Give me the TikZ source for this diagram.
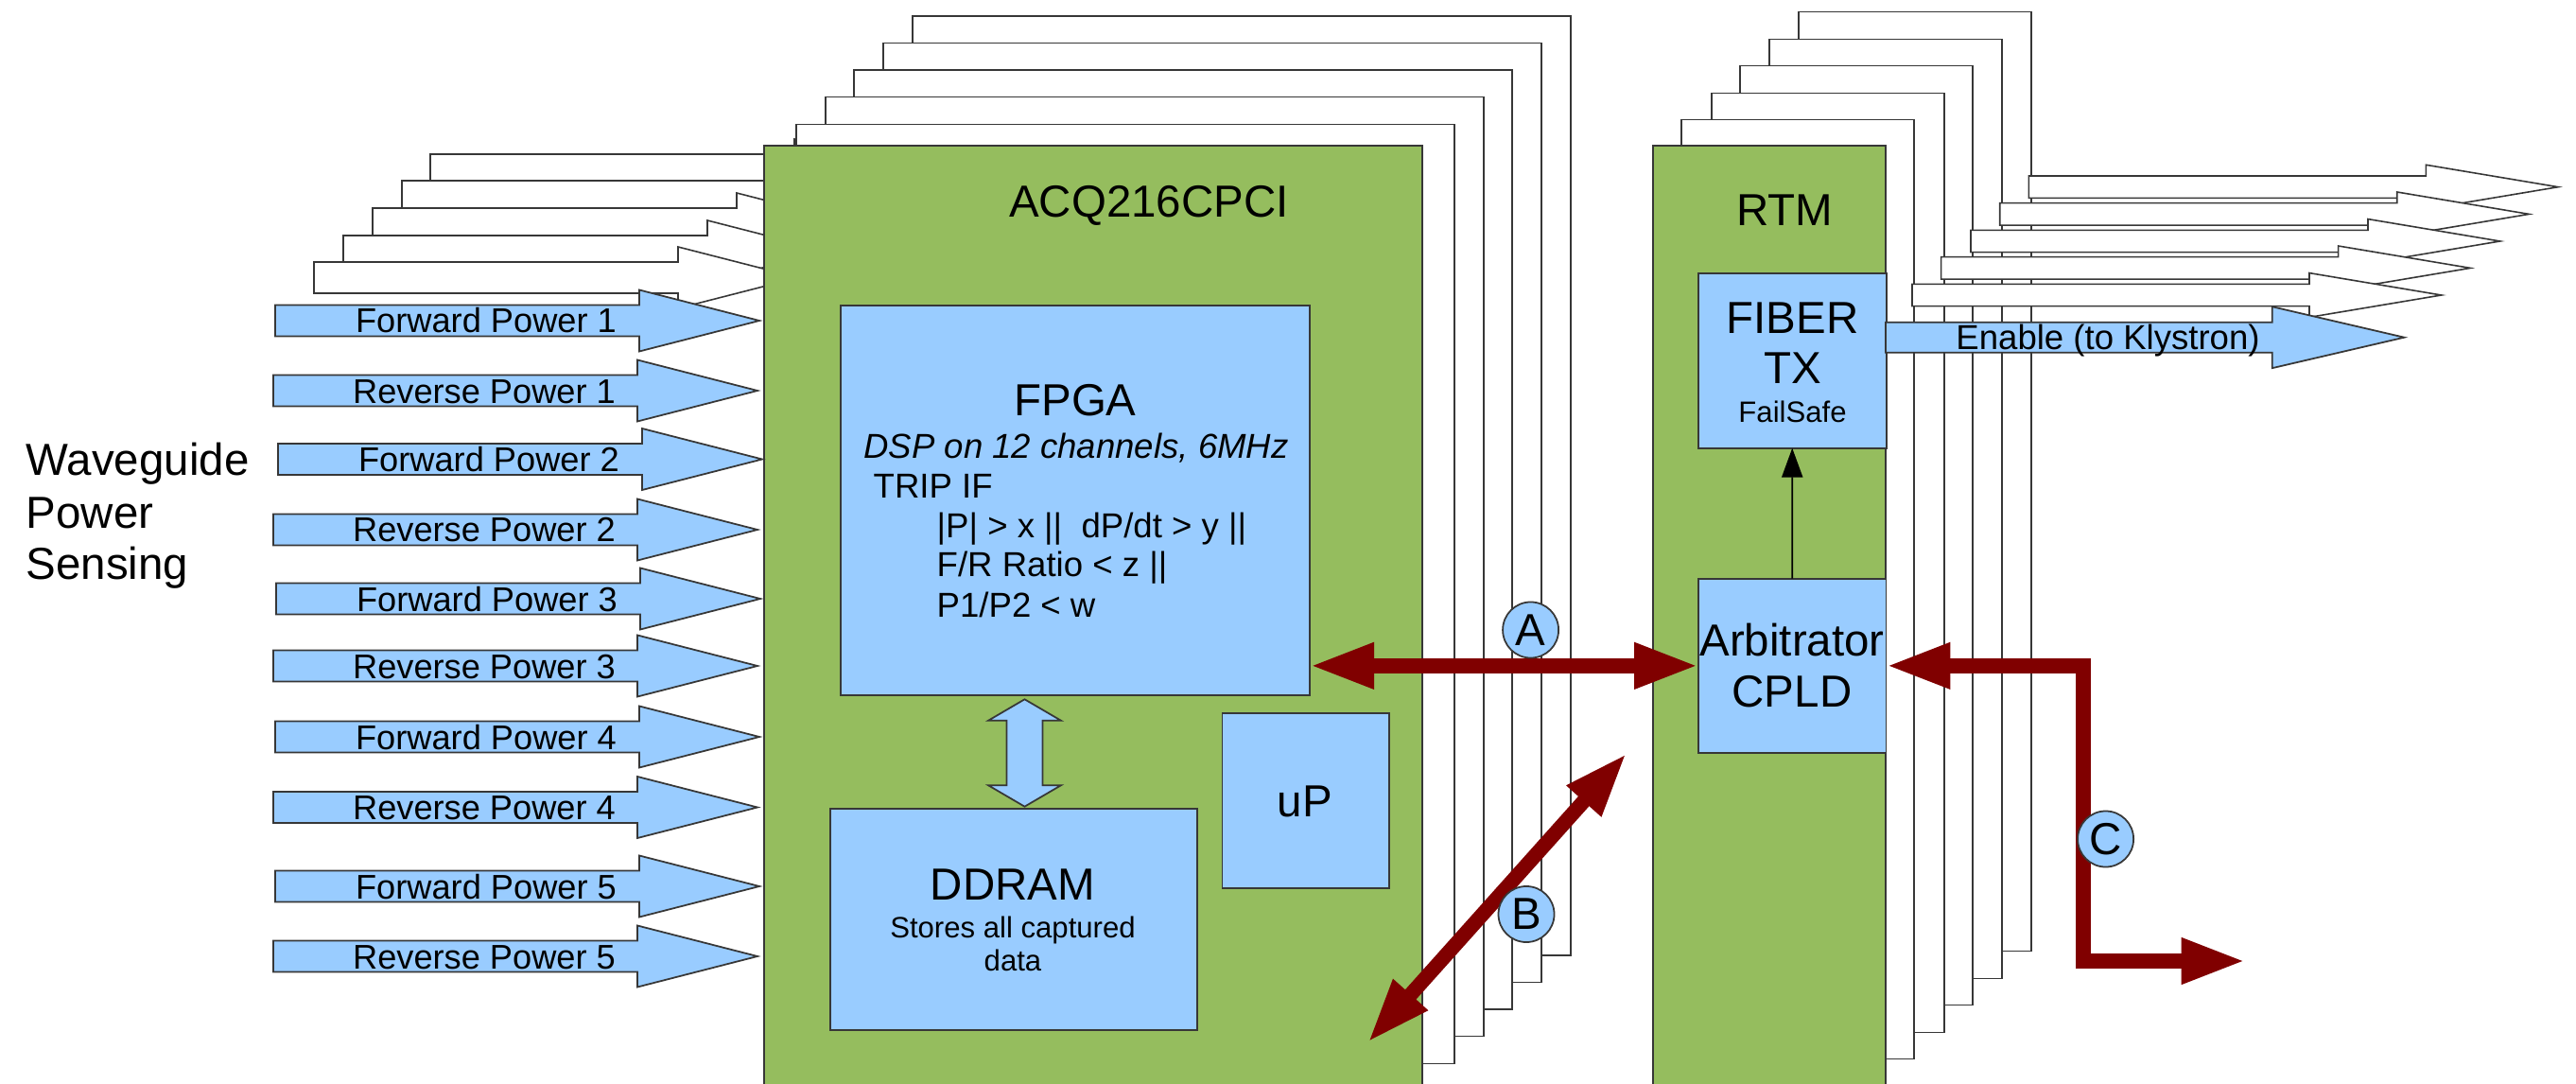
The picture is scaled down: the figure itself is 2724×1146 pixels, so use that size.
\documentclass[tikz,border=0pt]{standalone}
\usepackage{fontspec}
\setmainfont{Liberation Sans}
\usetikzlibrary{arrows.meta}
\definecolor{boardgreen}{RGB}{149,189,94}
\definecolor{chipblue}{RGB}{153,204,255}
\definecolor{busred}{RGB}{128,0,0}
\definecolor{edgegrey}{RGB}{55,55,55}
% style, x0, yc, shaft length, shaft half height, head length, head half height
\newcommand\fatarr[7]{%
  \draw[#1] (#2,#3-#5) -- (#2+#4,#3-#5) -- (#2+#4,#3-#7) -- (#2+#4+#6,#3)
    -- (#2+#4,#3+#7) -- (#2+#4,#3+#5) -- (#2,#3+#5) -- cycle;}
\begin{document}
\begin{tikzpicture}[x=0.01cm,y=-0.01cm,
  ghost/.style={draw=edgegrey, fill=white, line width=0.45pt},
  board/.style={draw=edgegrey, fill=boardgreen, line width=0.5pt, inner sep=0pt, outer sep=0pt},
  chip/.style={draw=edgegrey, fill=chipblue, line width=0.5pt},
  chipbox/.style={chip, inner sep=0pt, outer sep=0pt},
  lbl/.style={inner sep=0pt, anchor=base},
  lblw/.style={inner sep=0pt, anchor=base west},
  big/.style={font=\fontsize{13.5}{16}\selectfont},
  mid/.style={font=\fontsize{10.3}{12}\selectfont},
  small/.style={font=\fontsize{8.85}{10}\selectfont},
  bus/.style={draw=busred, line width=4.4pt, line join=miter,
    arrows={Triangle[length=19.3pt,width=12.8pt]-Triangle[length=19.3pt,width=12.8pt]}},
  tag/.style={circle, draw=edgegrey, fill=chipblue, line width=0.5pt, minimum size=0.59cm,
    inner sep=0pt, font=\fontsize{13.5}{16}\selectfont},
]
\useasboundingbox (0,0) rectangle (2724,1146);
\clip (0,0) rectangle (2724,1146);

% ---------- ACQ back boards with their input arrows ----------
\foreach \bx/\by/\ax/\ay in {965/17/455/179.5, 934/45.3/425/207.5, 903/74/394/236.5,
                             873/102.7/363/265.5, 842/131.7/332/293.5}{
  \draw[ghost] (\bx,\by) rectangle ++(696,993);
  \fatarr{ghost}{\ax}{\ay}{385}{16.5}{127}{32.5}
}
\node[board, minimum width=6.96cm, minimum height=9.93cm] (acq) at (1156,650.5) {};

% ---------- input arrows ----------
\foreach \x/\y/\t [count=\i] in {291/339/Forward Power 1, 289/413/Reverse Power 1,
    294/485.5/Forward Power 2, 289/560/Reverse Power 2, 292/633/Forward Power 3,
    289/704/Reverse Power 3, 291/779/Forward Power 4, 289/853.5/Reverse Power 4,
    291/937/Forward Power 5, 289/1011/Reverse Power 5}{
  \fatarr{chip}{\x}{\y}{385}{16.5}{127}{32.5}
  \node[lbl, mid] (in\i) at (\x+223,\y+13) {\t};
}

% ---------- ACQ contents ----------
\node[chipbox, minimum width=4.96cm, minimum height=4.12cm] (fpga) at (1137,529) {};
\node[chipbox, minimum width=3.875cm, minimum height=2.34cm] (ddram) at (1071.75,971.7) {};
\node[chipbox, minimum width=1.765cm, minimum height=1.85cm] (up) at (1380.75,846.8) {};
\draw[chip] (1083.5,739.3) -- (1122,761.8) -- (1102.5,761.8) -- (1102.5,830.2) -- (1122,830.2)
  -- (1083.5,852.7) -- (1045,830.2) -- (1064.5,830.2) -- (1064.5,761.8) -- (1045,761.8) -- cycle;

\node[lbl, big] (tacq) at (1215,230) {ACQ216CPCI};
\node[lbl, big] (tfpga) at (1137,440) {FPGA};
\node[lbl, font=\fontsize{10.4}{12}\selectfont\itshape] (tdsp) at (1138,485) {DSP on 12 channels, 6MHz};
\node[lblw, font=\fontsize{10.4}{12}\selectfont] (ttrip) at (923,527) {TRIP IF};
\node[lblw, font=\fontsize{10.4}{12}\selectfont] (tc1) at (990,568) {|P| > x ||\ \ dP/dt > y ||};
\node[lblw, font=\fontsize{10.4}{12}\selectfont] (tc2) at (990,610) {F/R Ratio < z ||};
\node[lblw, font=\fontsize{10.4}{12}\selectfont] (tc3) at (990,652) {P1/P2 < w};
\node[lbl, big] (tddram) at (1071,951.7) {DDRAM};
\node[lbl, small] (tst1) at (1071,991.7) {Stores all captured};
\node[lbl, small] (tst2) at (1071,1026) {data};
\node[lbl, big] (tup) at (1380,863) {uP};

% ---------- RTM back boards with output arrows ----------
\foreach \bx/\by/\ax/\ay in {1902/12.7/2145.4/197.7, 1871/41.3/2114.7/226.4, 1840/69.7/2084/255,
                             1810/98.3/2052.6/283.4, 1778/126.7/2022/312}{
  \draw[ghost] (\bx,\by) rectangle ++(246,993);
  \fatarr{ghost}{\ax}{\ay}{420}{11.7}{139.7}{23.4}
}
\node[board, minimum width=2.46cm, minimum height=9.93cm] (rtm) at (1871,650.5) {};
\node[chipbox, minimum width=1.99cm, minimum height=1.847cm] (fiber) at (1895.2,381.35) {};
\node[chipbox, minimum width=1.985cm, minimum height=1.843cm] (arb) at (1895.25,703.85) {};
\fatarr{chip}{1994}{356.7}{408.6}{16}{139.8}{32.5}

\node[lbl, big] (trtm) at (1887,239) {RTM};
\node[lbl, big] (tfib) at (1895.5,352.7) {FIBER};
\node[lbl, big] (ttx) at (1895.5,406) {TX};
\node[lbl, small] (tfs) at (1895.5,446) {FailSafe};
\node[lbl, big] (tarb) at (1895,693.6) {Arbitrator};
\node[lbl, big] (tcpld) at (1895,747.6) {CPLD};
\node[lbl, font=\fontsize{10.4}{12}\selectfont] (tenable) at (2229,369.5) {Enable (to Klystron)};

\draw[draw=black, line width=0.5pt, -{Triangle[length=8.8pt,width=6.3pt]}] (arb.north) -- (fiber.south);

% ---------- left caption ----------
\node[lblw, big] (wg1) at (27,503) {Waveguide};
\node[lblw, big] (wg2) at (27,558) {Power};
\node[lblw, big] (wg3) at (27,612) {Sensing};

% ---------- buses ----------
\draw[bus] (fpga.east |- arb.west) -- (arb.west);
\coordinate (bL) at (1446.4,1102);
\coordinate (bU) at (1720,796.5);
\draw[bus] (bL) -- (bU);
\coordinate (cTurn) at (2203,1016);
\coordinate (cEnd) at (2374.5,1016);
\draw[bus] (arb.east) -| (cTurn) -- (cEnd);

\node[tag] (tA) at (1618.6,666) {A};
\node[tag] (tB) at (1614,966.5) {B};
\node[tag] (tC) at (2226.6,887) {C};
\end{tikzpicture}
\end{document}
